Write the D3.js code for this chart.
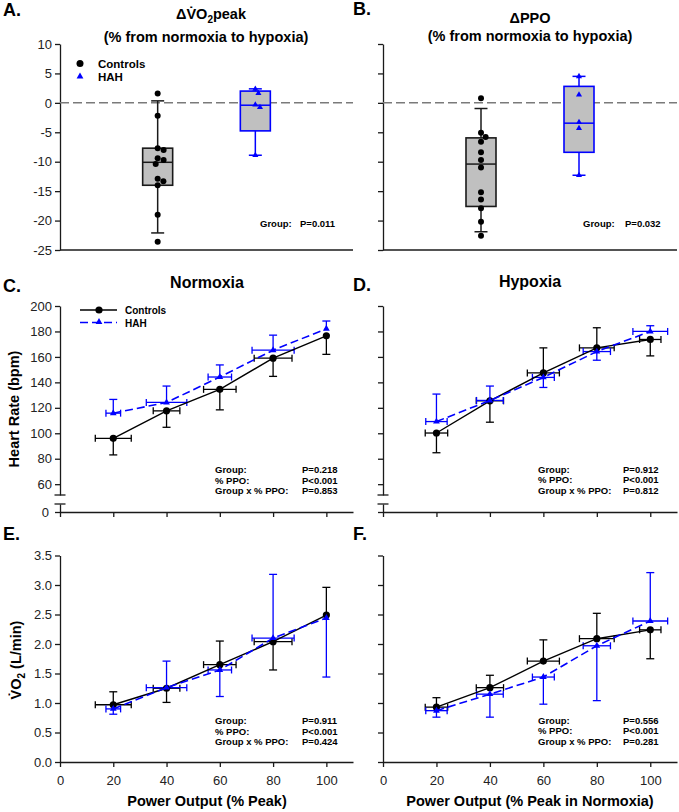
<!DOCTYPE html>
<html>
<head>
<meta charset="utf-8">
<script src="https://cdn.jsdelivr.net/npm/d3@7"></script>
<style>
  body { margin: 0; background: #fff; }
</style>
</head>
<body>
<div id="chart"></div>
<script>
// ---- data ----
const boxGroups = ["Controls", "HAH"];
const deltaTicks = [-25, -20, -15, -10, -5, 0, 5, 10];

// A. delta VO2peak (% from normoxia to hypoxia)
const vo2PeakCtrl = [1.6, -2.2, -7.7, -8.0, -9.4, -9.7, -10.4, -12.9, -13.3, -14.0, -19.0, -23.6];
const vo2PeakHAH = [2.35, 1.64, -0.34, -0.73, -8.9];
// [whisker low, q1, median, q3, whisker high]
const vo2PeakCtrlBox = [-22.1, -14.0, -10.1, -7.7, 0.34];
const vo2PeakHAHBox = [-8.9, -4.76, -0.4, 2.0, 2.38];

// B. delta PPO
const ppoCtrl = [0.8, -5.1, -5.8, -6.6, -8.4, -9.7, -11.0, -15.2, -16.4, -17.9, -20.2, -22.6];
const ppoHAH = [4.5, 1.36, -3.3, -4.3, -12.3];
const ppoCtrlBox = [-21.9, -17.6, -10.4, -5.95, -0.96];
const ppoHAHBox = [-12.3, -8.4, -3.45, 2.8, 4.5];

const pctPeak = [20, 40, 60, 80, 100];
const xTicks = [0, 20, 40, 60, 80, 100];
const hrTicks = [60, 80, 100, 120, 140, 160, 180, 200];
const vo2Ticks = [0, 0.5, 1.0, 1.5, 2.0, 2.5, 3.0, 3.5];

// C. heart rate, normoxia
const hrNormCtrl = [96, 117.6, 134.5, 159, 176.6];
const hrNormCtrlSD = [13, 12.9, 16.1, 14.3, 14.6];
const ppoNormCtrlSD = [6.75, 5, 6.1, 7.1, 0];
const hrNormHAH = [115.8, 124.2, 144.2, 165.3, 182.1];
const hrNormHAHSD = [10.8, 12.9, 9.5, 11.8, 6.1];
const ppoNormHAHSD = [2.75, 7.6, 4.4, 7.9, 0];

// D. heart rate, hypoxia
const hrHypCtrl = [100.2, 125.5, 147.4, 167.1, 173.7];
const hrHypCtrlSD = [15.5, 16.8, 19.7, 15.8, 12.9];
const ppoHypCtrlSD = [4.2, 5.1, 6, 6.5, 4];
const hrHypHAH = [109.2, 125.8, 143.9, 164.2, 180];
const hrHypHAHSD = [21.6, 11.3, 7.9, 6.8, 4.5];
const ppoHypHAHSD = [4, 5, 4.1, 5.1, 6.5];

// E. VO2, normoxia
const vo2NormCtrl = [0.97, 1.25, 1.65, 2.04, 2.49];
const vo2NormCtrlSD = [0.22, 0.24, 0.40, 0.48, 0.47];
const vo2NormHAH = [0.90, 1.26, 1.56, 2.10, 2.44];
const vo2NormHAHSD = [0.09, 0.45, 0.45, 1.08, 1.0];

// F. VO2, hypoxia
const vo2HypCtrl = [0.93, 1.26, 1.71, 2.09, 2.24];
const vo2HypCtrlSD = [0.16, 0.21, 0.36, 0.43, 0.49];
const vo2HypHAH = [0.87, 1.15, 1.44, 1.97, 2.39];
const vo2HypHAHSD = [0.11, 0.39, 0.46, 0.93, 0.82];

const statLabels = ["Group:", "% PPO:", "Group x % PPO:"];
const statsC = ["P=0.218", "P<0.001", "P=0.853"];
const statsD = ["P=0.912", "P<0.001", "P=0.812"];
const statsE = ["P=0.911", "P<0.001", "P=0.424"];
const statsF = ["P=0.556", "P<0.001", "P=0.281"];

// ---- drawing ----
const blue = "#0000ff";
const dark = "#1a1a1a";
const cols = [{ x0: 60, x1: 353 }, { x0: 383, x1: 677 }];

const svg = d3.select("#chart")
  .append("svg")
  .attr("width", 679)
  .attr("height", 812)
  .style("font-family", "'Liberation Sans', Arial, sans-serif");

function styleAxis(g) {
  g.attr("font-size", 13).attr("font-family", null);
  g.selectAll("path, line").attr("stroke", dark).attr("stroke-width", 1.3);
  g.selectAll("text").attr("fill", "#222");
}

function label(x, y, txt, size, opts = {}) {
  return svg.append("text")
    .attr("x", x).attr("y", y)
    .attr("font-size", size)
    .attr("font-weight", opts.weight || "bold")
    .attr("text-anchor", opts.anchor || "start")
    .attr("fill", opts.fill || "#000")
    .text(txt);
}

// simple beeswarm so the dots in a box do not sit on each other
function swarm(vals, y, r) {
  const placed = [];
  vals.forEach(v => {
    const py = y(v);
    const cands = [0];
    placed.forEach(p => {
      const dy = Math.abs(p.y - py);
      if (dy < 2 * r) {
        const dx = Math.sqrt(4 * r * r - dy * dy);
        cands.push(p.x + dx, p.x - dx);
      }
    });
    cands.sort((a, b) => Math.abs(a) - Math.abs(b));
    const ok = cands.find(cx => placed.every(p => Math.hypot(p.x - cx, p.y - py) >= 2 * r - 1e-6));
    placed.push({ x: ok, y: py, v });
  });
  return placed;
}

function boxPanel(col, ctrlPts, hahPts, ctrlBox, hahBox, showLabels) {
  const y = d3.scaleLinear().domain([-25, 10]).range([250, 44]);
  const x = d3.scalePoint().domain(boxGroups).range([col.x0, col.x1]).padding(1);

  svg.append("g")
    .attr("transform", `translate(${col.x0},0)`)
    .call(d3.axisLeft(y).tickValues(deltaTicks).tickSize(5).tickSizeOuter(0).tickPadding(3)
      .tickFormat(d => showLabels ? String(d) : ""))
    .call(styleAxis);

  svg.append("line")
    .attr("x1", col.x0).attr("x2", col.x1)
    .attr("y1", y(-25)).attr("y2", y(-25))
    .attr("stroke", dark).attr("stroke-width", 1.3);

  svg.append("line")
    .attr("x1", col.x0).attr("x2", col.x1)
    .attr("y1", y(0)).attr("y2", y(0))
    .attr("stroke", "#7a7a7a").attr("stroke-width", 1.5)
    .attr("stroke-dasharray", "9,4");

  const sets = [
    { name: "Controls", pts: ctrlPts, box: ctrlBox, color: dark, tri: false },
    { name: "HAH", pts: hahPts, box: hahBox, color: blue, tri: true }
  ];

  sets.forEach(s => {
    const cx = x(s.name);
    const [wlo, q1, med, q3, whi] = s.box;
    const g = svg.append("g");
    const bw = 30, cw = 13;
    g.append("line").attr("x1", cx).attr("x2", cx).attr("y1", y(q3)).attr("y2", y(whi))
      .attr("stroke", s.color).attr("stroke-width", 1.5);
    g.append("line").attr("x1", cx).attr("x2", cx).attr("y1", y(q1)).attr("y2", y(wlo))
      .attr("stroke", s.color).attr("stroke-width", 1.5);
    [wlo, whi].forEach(w => {
      g.append("line").attr("x1", cx - cw / 2).attr("x2", cx + cw / 2).attr("y1", y(w)).attr("y2", y(w))
        .attr("stroke", s.color).attr("stroke-width", 1.5);
    });
    g.append("rect")
      .attr("x", cx - bw / 2).attr("y", y(q3))
      .attr("width", bw).attr("height", y(q1) - y(q3))
      .attr("fill", "#c0c0c0").attr("stroke", s.color).attr("stroke-width", 1.6);
    g.append("line").attr("x1", cx - bw / 2).attr("x2", cx + bw / 2).attr("y1", y(med)).attr("y2", y(med))
      .attr("stroke", s.color).attr("stroke-width", 1.5);

    const placed = swarm(s.pts, y, s.tri ? 2.6 : 3.1);
    if (s.tri) {
      g.selectAll(null).data(placed).join("path")
        .attr("d", d3.symbol(d3.symbolTriangle, 16))
        .attr("transform", d => `translate(${cx + d.x},${d.y})`)
        .attr("fill", blue);
    } else {
      g.selectAll(null).data(placed).join("circle")
        .attr("cx", d => cx + d.x).attr("cy", d => d.y).attr("r", 3)
        .attr("fill", "#000");
    }
  });
}

function drawSeries(g, x, y, vals, other, ySD, xSD, color, dashed, tri) {
  const pts = pctPeak.map((p, i) => ({
    p, v: vals[i], sd: ySD[i], xsd: xSD[i], dir: vals[i] >= other[i] ? 1 : -1
  }));
  const eb = g.append("g").attr("stroke", color).attr("stroke-width", 1.3);
  // vertical bars: the higher group points up, the lower one down
  eb.selectAll(null).data(pts).join("line")
    .attr("x1", d => x(d.p)).attr("x2", d => x(d.p))
    .attr("y1", d => y(d.v)).attr("y2", d => y(d.v + d.dir * d.sd));
  eb.selectAll(null).data(pts).join("line")
    .attr("x1", d => x(d.p) - 4).attr("x2", d => x(d.p) + 4)
    .attr("y1", d => y(d.v + d.dir * d.sd)).attr("y2", d => y(d.v + d.dir * d.sd));
  const hx = pts.filter(d => d.xsd > 0);
  eb.selectAll(null).data(hx).join("line")
    .attr("x1", d => x(d.p - d.xsd)).attr("x2", d => x(d.p + d.xsd))
    .attr("y1", d => y(d.v)).attr("y2", d => y(d.v));
  [-1, 1].forEach(s => {
    eb.selectAll(null).data(hx).join("line")
      .attr("x1", d => x(d.p + s * d.xsd)).attr("x2", d => x(d.p + s * d.xsd))
      .attr("y1", d => y(d.v) - 3.5).attr("y2", d => y(d.v) + 3.5);
  });
  return pts;
}

function drawLineAndMarks(g, x, y, pts, color, dashed, tri) {
  g.append("path")
    .datum(pts)
    .attr("fill", "none")
    .attr("stroke", color)
    .attr("stroke-width", dashed ? 1.6 : 1.4)
    .attr("stroke-dasharray", dashed ? "8,4" : null)
    .attr("d", d3.line().x(d => x(d.p)).y(d => y(d.v)));
  if (tri) {
    g.selectAll(null).data(pts).join("path")
      .attr("d", d3.symbol(d3.symbolTriangle, 20))
      .attr("transform", d => `translate(${x(d.p)},${y(d.v)})`)
      .attr("fill", blue);
  } else {
    g.selectAll(null).data(pts).join("circle")
      .attr("cx", d => x(d.p)).attr("cy", d => y(d.v)).attr("r", 3.6)
      .attr("fill", "#000");
  }
}

function linePanel(col, y, axisY, ctrl, ctrlSD, ctrlXSD, hah, hahSD, hahXSD) {
  const x = d3.scaleLinear().domain([0, 110]).range([col.x0, col.x1]);
  const g = svg.append("g");
  const pc = drawSeries(g, x, y, ctrl, hah, ctrlSD, ctrlXSD, "#000");
  const ph = drawSeries(g, x, y, hah, ctrl, hahSD, hahXSD, blue);
  drawLineAndMarks(g, x, y, pc, "#000", false, false);
  drawLineAndMarks(g, x, y, ph, blue, true, true);
  return x;
}

function stats(xl, xv, y0, vals) {
  statLabels.forEach((t, i) => {
    label(xl, y0 + i * 10.7, t, 9.5);
    label(xv, y0 + i * 10.7, vals[i], 9.5);
  });
}

// Row 1: box plots
boxPanel(cols[0], vo2PeakCtrl, vo2PeakHAH, vo2PeakCtrlBox, vo2PeakHAHBox, true);
boxPanel(cols[1], ppoCtrl, ppoHAH, ppoCtrlBox, ppoHAHBox, false);

label(3, 16, "A.", 18);
label(353, 15, "B.", 18);

const tA = label(211, 19, "", 14.5, { anchor: "middle" });
tA.append("tspan").text("\u0394V\u0307O");
tA.append("tspan").attr("font-size", 10).attr("dy", 4).text("2");
tA.append("tspan").attr("dy", -4).text("peak");
label(206, 42, "(% from normoxia to hypoxia)", 14.5, { anchor: "middle" });
label(530, 23, "\u0394PPO", 14.5, { anchor: "middle" });
label(530, 41, "(% from normoxia to hypoxia)", 14.5, { anchor: "middle" });

// legend A
svg.append("circle").attr("cx", 80).attr("cy", 63.5).attr("r", 3.5).attr("fill", "#000");
label(98, 67.5, "Controls", 11.5);
svg.append("path").attr("d", d3.symbol(d3.symbolTriangle, 20)).attr("transform", "translate(80,76.5)").attr("fill", blue);
label(98, 80.5, "HAH", 11.5);

label(260, 227, "Group:", 9.5);
label(300, 227, "P=0.011", 9.5);
label(583, 227, "Group:", 9.5);
label(625, 227, "P=0.032", 9.5);

// Row 2: heart rate (broken y axis)
const yHR = d3.scaleLinear().domain([51.5, 200]).range([495, 306]);
const yHRlow = d3.scaleLinear().domain([0, 6.3]).range([512, 504]);

cols.forEach((col, ci) => {
  const x = d3.scaleLinear().domain([0, 110]).range([col.x0, col.x1]);
  svg.append("g").attr("transform", `translate(${col.x0},0)`)
    .call(d3.axisLeft(yHR).tickValues(hrTicks).tickSize(5).tickSizeOuter(0).tickPadding(3)
      .tickFormat(d => ci === 0 ? String(d) : ""))
    .call(styleAxis);
  svg.append("g").attr("transform", `translate(${col.x0},0)`)
    .call(d3.axisLeft(yHRlow).tickValues([0]).tickSize(5).tickSizeOuter(0).tickPadding(6)
      .tickFormat(d => ci === 0 ? String(d) : ""))
    .call(styleAxis);
  [495, 504].forEach(by => {
    svg.append("line").attr("x1", col.x0 - 5.5).attr("x2", col.x0 + 5.5).attr("y1", by).attr("y2", by)
      .attr("stroke", dark).attr("stroke-width", 1.3);
  });
  svg.append("g").attr("transform", `translate(0,512)`)
    .call(d3.axisBottom(x).tickValues(xTicks).tickSize(5).tickSizeOuter(0).tickFormat(""))
    .call(styleAxis);
});

linePanel(cols[0], yHR, 512, hrNormCtrl, hrNormCtrlSD, ppoNormCtrlSD, hrNormHAH, hrNormHAHSD, ppoNormHAHSD);
linePanel(cols[1], yHR, 512, hrHypCtrl, hrHypCtrlSD, ppoHypCtrlSD, hrHypHAH, hrHypHAHSD, ppoHypHAHSD);

label(3, 292, "C.", 18);
label(353, 291, "D.", 18);
label(207, 288, "Normoxia", 16, { anchor: "middle" });
label(530, 287, "Hypoxia", 16, { anchor: "middle" });

svg.append("text")
  .attr("transform", "translate(19,409) rotate(-90)")
  .attr("text-anchor", "middle").attr("font-size", 14.5).attr("font-weight", "bold")
  .text("Heart Rate (bpm)");

// legend C
svg.append("line").attr("x1", 80).attr("x2", 117).attr("y1", 310).attr("y2", 310)
  .attr("stroke", "#000").attr("stroke-width", 1.4);
svg.append("circle").attr("cx", 99).attr("cy", 310).attr("r", 3.6).attr("fill", "#000");
label(125, 313.5, "Controls", 10);
svg.append("line").attr("x1", 80).attr("x2", 117).attr("y1", 322.5).attr("y2", 322.5)
  .attr("stroke", blue).attr("stroke-width", 1.6).attr("stroke-dasharray", "8,4");
svg.append("path").attr("d", d3.symbol(d3.symbolTriangle, 20)).attr("transform", "translate(99,322)").attr("fill", blue);
label(125, 326.5, "HAH", 10);

stats(215, 302, 473, statsC);
stats(538, 623, 472.5, statsD);

// Row 3: VO2
const yV = d3.scaleLinear().domain([0, 3.5]).range([762, 555.5]);
cols.forEach((col, ci) => {
  const x = d3.scaleLinear().domain([0, 110]).range([col.x0, col.x1]);
  svg.append("g").attr("transform", `translate(${col.x0},0)`)
    .call(d3.axisLeft(yV).tickValues(vo2Ticks).tickSize(5).tickSizeOuter(0).tickPadding(3)
      .tickFormat(d => ci === 0 ? d.toFixed(1) : ""))
    .call(styleAxis);
  svg.append("g").attr("transform", `translate(0,762)`)
    .call(d3.axisBottom(x).tickValues(xTicks).tickSize(5).tickSizeOuter(0).tickPadding(9)
      .tickFormat(d => String(d)))
    .call(styleAxis);
});

linePanel(cols[0], yV, 762, vo2NormCtrl, vo2NormCtrlSD, ppoNormCtrlSD, vo2NormHAH, vo2NormHAHSD, ppoNormHAHSD);
linePanel(cols[1], yV, 762, vo2HypCtrl, vo2HypCtrlSD, ppoHypCtrlSD, vo2HypHAH, vo2HypHAHSD, ppoHypHAHSD);

label(3, 540, "E.", 18);
label(353, 540, "F.", 18);

const tE = svg.append("text")
  .attr("transform", "translate(21,660) rotate(-90)")
  .attr("text-anchor", "middle").attr("font-size", 14.5).attr("font-weight", "bold");
tE.append("tspan").text("V\u0307O");
tE.append("tspan").attr("font-size", 10).attr("dy", 4).text("2");
tE.append("tspan").attr("dy", -4).text(" (L/min)");

stats(215, 302, 724, statsE);
stats(538, 623, 723.5, statsF);

label(207, 806, "Power Output (% Peak)", 14.5, { anchor: "middle" });
label(530, 806, "Power Output (% Peak in Normoxia)", 14.5, { anchor: "middle" });
</script>
</body>
</html>
